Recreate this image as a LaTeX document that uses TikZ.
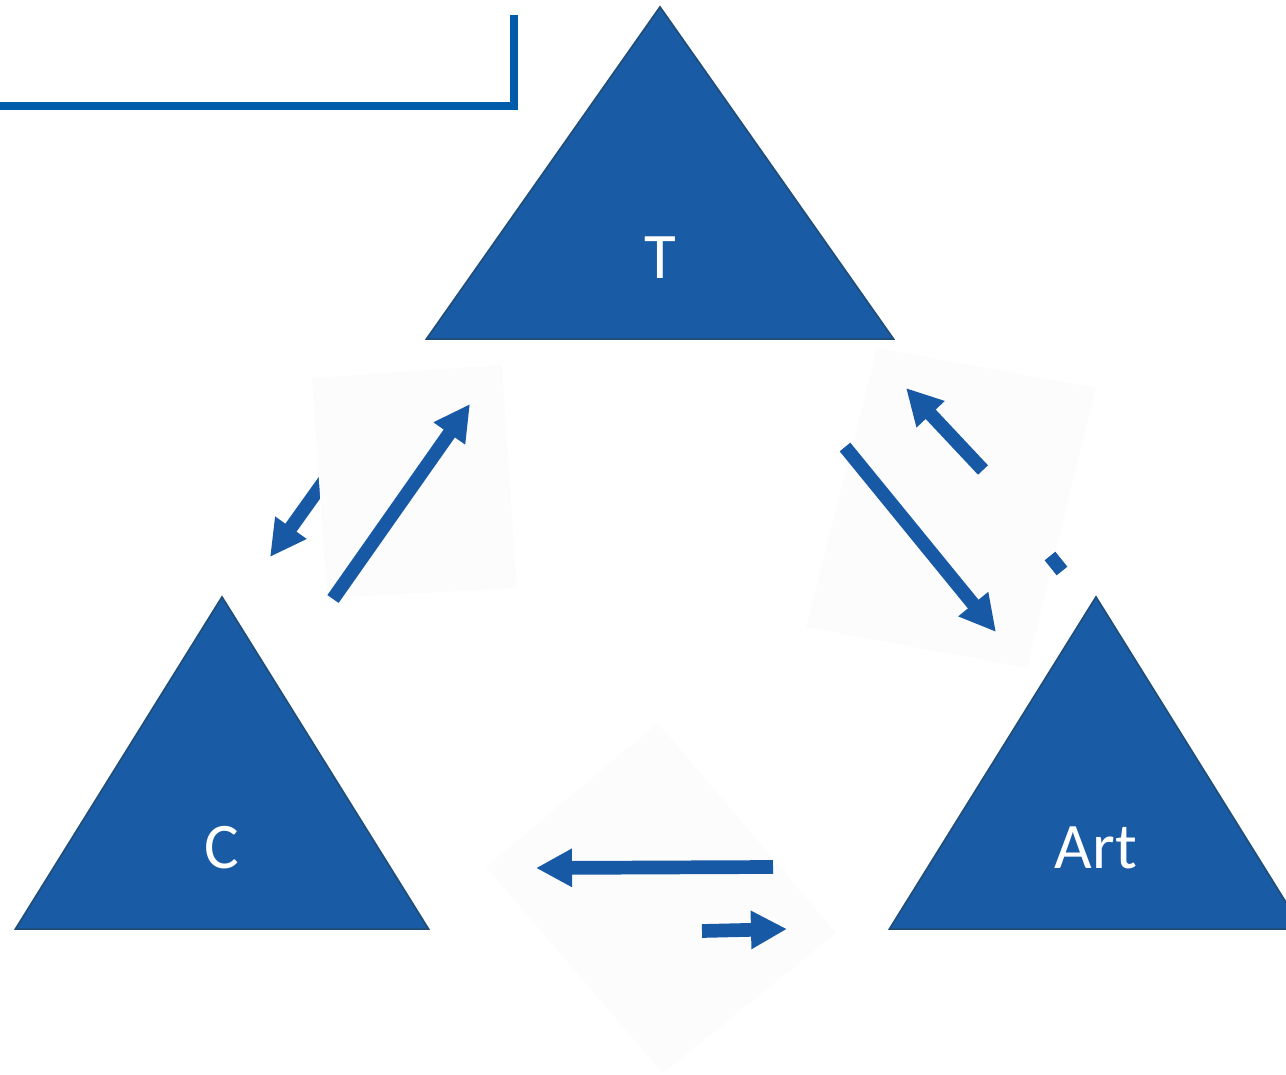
\documentclass[tikz,border=0pt]{standalone}
\usepackage{fontspec}
\setmainfont{Carlito}
\usetikzlibrary{arrows.meta}
\definecolor{triblue}{RGB}{26,91,166}
\definecolor{edgeblue}{RGB}{31,78,121}
\definecolor{lineblue}{RGB}{0,91,170}
\definecolor{arrowblue}{RGB}{24,89,165}
\definecolor{patchgray}{RGB}{252,252,252}
\tikzset{
	corner/.style={fill=triblue, draw=edgeblue, line width=1pt, line join=miter},
	cornerlabel/.style={text=white, font=\fontsize{37}{44}\selectfont},
	flowarrow/.style={arrowblue, line width=7.8pt, -{Triangle[width=20.5pt,length=20.5pt]}},
	patch/.style={fill=patchgray, draw=none}
}
\begin{document}
\begin{tikzpicture}[x=0.02cm, y=-0.02cm]
		\useasboundingbox (0,0) rectangle (1286,1075);
		\clip (0,0) rectangle (1286,1075);
		% Frame line
		\coordinate (fa) at (-10,106);
		\coordinate (fb) at (514,106);
		\coordinate (fc) at (514,15);
		\draw [lineblue, line width=4.3pt] (fa) -- (fb) -- (fc);
		% Triangles
		\foreach \ax/\ay/\hw/\lbl/\nm in {660/7/233.5/T/top, 222/597/206.5/C/left, 1096/597/206.5/Art/right}{
			\draw [corner] (\ax,\ay) -- (\ax+\hw,\ay+332) -- (\ax-\hw,\ay+332) -- cycle;
			\node [cornerlabel] (lbl\nm) at (\ax,\ay+251) {\lbl};
		}
		% Left pair
		\coordinate (lsa) at (340,459);
		\coordinate (lsb) at (270,557);
		\draw [flowarrow] (lsa) -- (lsb);
		\fill [patch] (312,378) -- (502,365) -- (517,588) -- (327,598) -- cycle;
		\coordinate (lla) at (333,599);
		\coordinate (llb) at (470,404);
		\draw [flowarrow] (lla) -- (llb);
		% Right pair
		\fill [patch] (877,348) -- (1096,388) -- (1027,668) -- (806,627) -- cycle;
		\coordinate (rla) at (845,447);
		\coordinate (rlb) at (996,632);
		\draw [flowarrow] (rla) -- (rlb);
		\coordinate (rsa) at (983,470);
		\coordinate (rsb) at (906,388);
		\draw [flowarrow] (rsa) -- (rsb);
		\coordinate (rfa) at (1050,556);
		\coordinate (rfb) at (1062,571);
		\draw [arrowblue, line width=7.8pt] (rfa) -- (rfb);
		% Bottom pair
		\fill [patch] (658,723) -- (836,933) -- (663,1073) -- (486,867) -- cycle;
		\coordinate (bla) at (773,867);
		\coordinate (blb) at (536,868);
		\draw [flowarrow] (bla) -- (blb);
		\coordinate (bsa) at (702,931);
		\coordinate (bsb) at (787,929);
		\draw [flowarrow] (bsa) -- (bsb);
\end{tikzpicture}
\end{document}
